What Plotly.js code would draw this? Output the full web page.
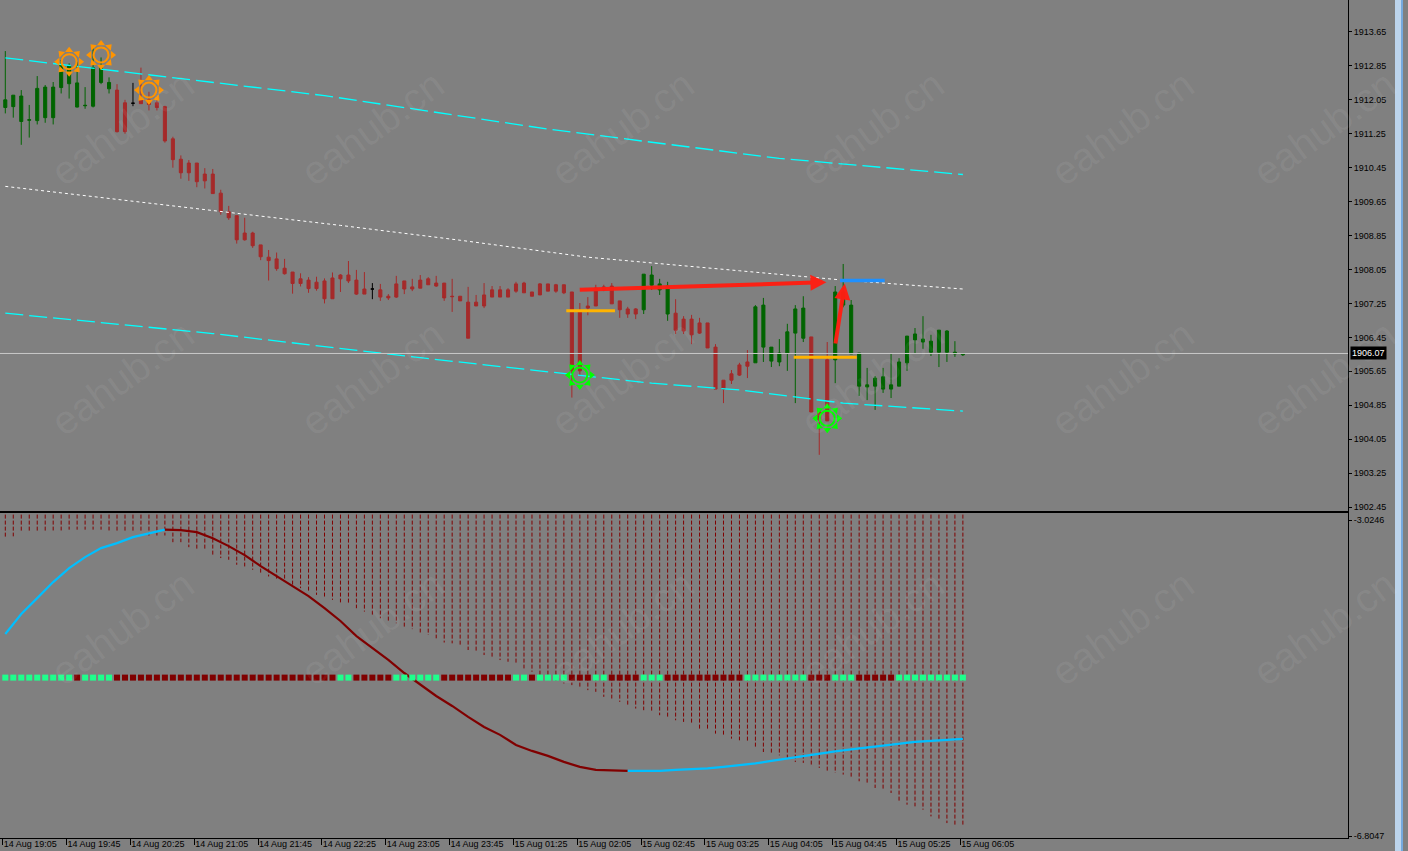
<!DOCTYPE html>
<html><head><meta charset="utf-8">
<script src="https://cdn.plot.ly/plotly-3.0.1.min.js"></script>
<style>html,body{margin:0;padding:0;background:#808080;overflow:hidden;}#chart{width:1408px;height:851px;}</style>
</head><body><div id="chart"></div><script>
// ---------------- DATA ----------------
const open = [
1911.87,1911.89,1911.54,1911.57,1911.56,1911.63,1911.63,1912.34,1912.43,1911.88,
1911.91,1911.90,1912.46,1912.31,1912.28,1911.98,1911.97,1912.05,1912.05,1911.98,
1911.89,1911.13,1910.65,1910.56,1910.56,1910.30,1910.30,1909.85,1909.41,1909.32,
1908.91,1908.91,1908.63,1908.34,1908.30,1908.08,1907.99,1907.83,1907.80,1907.75,
1907.78,1907.85,1907.92,1907.92,1907.80,1907.59,1907.59,1907.57,1907.42,1907.71,
1907.78,1907.64,1907.80,1907.83,1907.73,1907.73,1907.42,1907.42,1907.28,1907.28,
1907.45,1907.57,1907.57,1907.57,1907.71,1907.73,1907.52,1907.71,1907.71,1907.69,
1907.69,1907.52,1907.06,1907.19,1907.61,1907.64,1907.66,1907.31,1907.12,1907.12,
1907.10,1907.68,1907.57,1907.00,1907.02,1906.88,1906.88,1906.79,1906.79,1906.22,
1905.44,1905.59,1905.80,1905.87,1905.85,1906.22,1905.89,1905.87,1906.08,1906.55,
1906.43,1906.46,1904.69,1905.92,1905.92,1907.21,1906.06,1905.30,1905.28,1905.30,
1905.23,1905.23,1905.30,1905.85,1906.39,1906.34,1906.10,1906.10,1906.10,1906.06,
1906.04];
const high = [
1913.20,1912.16,1912.28,1911.93,1912.61,1912.40,1912.47,1912.99,1912.91,1912.95,
1912.35,1913.30,1913.05,1912.58,1912.42,1912.05,1912.45,1912.81,1912.24,1912.13,
1911.91,1911.18,1910.74,1910.63,1910.56,1910.44,1910.42,1909.93,1909.55,1909.32,
1909.27,1908.94,1908.63,1908.51,1908.45,1908.30,1907.99,1907.96,1907.87,1907.88,
1907.84,1907.98,1907.94,1908.25,1908.04,1907.99,1907.73,1907.71,1907.47,1907.90,
1907.78,1907.83,1907.92,1907.87,1907.90,1907.73,1907.83,1907.42,1907.64,1907.45,
1907.73,1907.66,1907.66,1907.61,1907.76,1907.76,1907.52,1907.73,1907.71,1907.71,
1907.69,1907.52,1907.26,1907.40,1907.69,1907.69,1907.73,1907.31,1907.17,1907.14,
1907.94,1908.13,1907.83,1907.76,1907.35,1906.95,1906.98,1906.91,1906.79,1906.29,
1905.44,1905.68,1905.85,1906.15,1907.21,1907.38,1906.22,1906.41,1906.77,1907.21,
1907.42,1906.46,1904.78,1906.34,1907.66,1908.18,1907.33,1906.08,1905.73,1905.54,
1905.73,1906.06,1905.96,1906.48,1906.67,1906.95,1906.51,1906.62,1906.62,1906.36,
1906.08];
const low = [
1911.73,1911.63,1910.99,1911.16,1911.47,1911.51,1911.47,1912.20,1912.08,1911.87,
1911.84,1911.87,1912.42,1912.20,1911.28,1911.25,1911.90,1911.96,1911.80,1911.80,
1911.04,1910.45,1910.19,1910.14,1909.99,1909.96,1909.84,1909.34,1909.22,1908.66,
1908.73,1908.56,1908.27,1907.79,1908.02,1907.93,1907.48,1907.65,1907.50,1907.55,
1907.25,1907.36,1907.52,1907.73,1907.45,1907.47,1907.35,1907.31,1907.33,1907.38,
1907.47,1907.54,1907.61,1907.69,1907.64,1907.31,1907.05,1907.31,1906.43,1907.19,
1907.14,1907.40,1907.40,1907.40,1907.50,1907.50,1907.42,1907.45,1907.54,1907.50,
1907.47,1905.03,1905.54,1906.97,1907.19,1907.54,1907.24,1906.91,1906.91,1906.88,
1907.00,1907.57,1907.45,1906.84,1906.53,1906.53,1906.29,1906.53,1906.20,1905.23,
1904.90,1905.35,1905.54,1905.49,1905.85,1905.87,1905.75,1905.77,1905.66,1904.90,
1906.34,1904.69,1903.68,1904.48,1905.37,1907.16,1906.06,1905.07,1904.97,1904.74,
1905.14,1905.02,1905.30,1905.66,1906.08,1906.18,1906.01,1905.75,1905.87,1905.99,
1906.01];
const close = [
1912.05,1912.16,1912.14,1911.58,1912.32,1912.35,1912.35,1912.87,1912.85,1912.45,
1911.92,1912.81,1912.81,1912.46,1911.30,1911.30,1911.97,1911.96,1911.94,1911.87,
1911.08,1910.64,1910.33,1910.33,1910.12,1910.14,1909.84,1909.41,1909.27,1908.75,
1908.75,1908.61,1908.35,1908.26,1908.07,1907.95,1907.72,1907.72,1907.60,1907.60,
1907.36,1907.36,1907.83,1907.78,1907.47,1907.47,1907.59,1907.40,1907.38,1907.40,
1907.59,1907.59,1907.61,1907.69,1907.66,1907.38,1907.41,1907.31,1906.43,1907.19,
1907.19,1907.40,1907.40,1907.40,1907.54,1907.50,1907.42,1907.45,1907.54,1907.54,
1907.50,1905.66,1905.66,1907.14,1907.19,1907.57,1907.24,1907.10,1907.00,1907.00,
1907.94,1907.92,1907.71,1907.66,1906.62,1906.60,1906.51,1906.55,1906.20,1905.23,
1905.23,1905.44,1905.56,1905.77,1907.17,1907.21,1906.22,1906.08,1906.58,1907.12,
1907.14,1904.69,1904.50,1904.48,1907.52,1907.52,1907.21,1906.08,1905.33,1905.49,
1905.52,1905.33,1905.87,1906.48,1906.53,1906.41,1906.36,1906.62,1906.60,1906.10,
1906.07];

const currentPrice = 1906.07;

// channel lines (bar index, price)
const upperChanBars = [0, 40, 68, 97, 120];
const upperChanPrice = [1913.04, 1912.15, 1911.36, 1910.67, 1910.29];
const midChanBars = [0, 26, 42, 57, 73, 92, 105, 120];
const midChanPrice = [1910.01, 1909.45, 1909.09, 1908.74, 1908.34, 1908.02, 1907.80, 1907.59];
const lowerChanBars = [0, 26, 52, 81, 92, 105, 120];
const lowerChanPrice = [1907.02, 1906.54, 1905.97, 1905.37, 1905.21, 1904.90, 1904.71];

// horizontal level segments
const orangeFrom = [70.3, 98.8];
const orangeTo = [76.4, 106.7];
const orangePrice = [1907.08, 1905.98];
const blueFrom = [104.6];
const blueTo = [110.2];
const bluePrice = [1907.79];

// arrows: tail -> head
const arrowTailBar = [71.8, 104.0];
const arrowTailPrice = [1907.57, 1906.27];
const arrowHeadBar = [102.9, 105.2];
const arrowHeadPrice = [1907.75, 1907.72];

// signal suns
const sellSunBars = [8, 12, 18];
const sellSunPrice = [1912.95, 1913.11, 1912.28];
const buySunBars = [72, 103];
const buySunPrice = [1905.56, 1904.54];

// price axis ticks
const priceTicks = [1902.45,1903.25,1904.05,1904.85,1905.65,1906.45,1907.25,1908.05,1908.85,1909.65,1910.45,1911.25,1912.05,1912.85,1913.65];

// time axis
const tickBars = [0,8,16,24,32,40,48,56,64,72,80,88,96,104,112,120];
const timeLabels = ["14 Aug 19:05","14 Aug 19:45","14 Aug 20:25","14 Aug 21:05","14 Aug 21:45","14 Aug 22:25","14 Aug 23:05","14 Aug 23:45",
  "15 Aug 01:25","15 Aug 02:05","15 Aug 02:45","15 Aug 03:25","15 Aug 04:05","15 Aug 04:45","15 Aug 05:25","15 Aug 06:05"];

// oscillator pane
const oscMax = -3.0246, oscMin = -6.8047;
const oscValues = [
-4.389,-4.150,-3.959,-3.767,-3.600,-3.469,-3.361,-3.301,-3.230,-3.182,-3.140,
-3.146,-3.170,-3.242,-3.337,-3.445,-3.576,-3.696,-3.815,-3.935,-4.078,
-4.233,-4.413,-4.556,-4.699,-4.855,-4.998,-5.130,-5.249,-5.380,-5.500,
-5.595,-5.715,-5.787,-5.846,-5.918,-5.978,-6.014,-6.020,-6.026,-6.026,
-6.026,-6.014,-6.008,-5.996,-5.978,-5.960,-5.936,-5.906,-5.876,-5.846,
-5.823,-5.793,-5.769,-5.745,-5.721,-5.703,-5.679,-5.667,-5.655,-5.643];
const oscStep = 2;              // one value every 2 bars
const oscTurnBars = [20, 78];   // colour turns: up -> down -> up

const bandTop = -2.96;
const bandLow = [
-3.23,-3.22,-3.16,-3.16,-3.16,-3.16,-3.15,-3.15,-3.14,-3.14,
-3.14,-3.14,-3.14,-3.15,-3.16,-3.16,-3.16,-3.17,-3.21,-3.21,
-3.21,-3.29,-3.29,-3.35,-3.37,-3.37,-3.45,-3.48,-3.50,-3.56,
-3.58,-3.62,-3.66,-3.70,-3.74,-3.76,-3.81,-3.84,-3.87,-3.92,
-3.94,-3.98,-4.01,-4.02,-4.08,-4.12,-4.16,-4.20,-4.24,-4.26,
-4.30,-4.33,-4.37,-4.40,-4.44,-4.49,-4.50,-4.52,-4.58,-4.60,
-4.64,-4.66,-4.70,-4.72,-4.74,-4.80,-4.84,-4.88,-4.92,-4.95,
-4.98,-5.00,-5.03,-5.06,-5.08,-5.14,-5.16,-5.20,-5.24,-5.28,
-5.30,-5.32,-5.36,-5.38,-5.42,-5.44,-5.46,-5.52,-5.52,-5.58,
-5.60,-5.64,-5.66,-5.68,-5.74,-5.80,-5.81,-5.84,-5.87,-5.92,
-5.93,-5.95,-5.99,-6.03,-6.05,-6.07,-6.11,-6.15,-6.19,-6.23,
-6.25,-6.29,-6.39,-6.43,-6.45,-6.49,-6.57,-6.61,-6.65,-6.67,
-6.67];

const signalLevel = -4.91;
const signalState = ["111111111","0","1111","0000000000","0000000000","00000000","11","00000","111111",
  "000000000","11","0","1111","000","11","0000","111","0000000000","11111111","000","111","00000","111111111"].join("");

// ---------------- GEOMETRY ----------------
const W = 1408, H = 851, MR = 60, MB = 13;
const PW = W - MR, PH = H - MB;   // plot area 1348 x 838
const xRange = [-0.664, 168.26];
const priceRange = [1902.356, 1914.404];
const PRICE_PANE_PX = 511;
const PX_PER_BAR = PW / (xRange[1] - xRange[0]);
const PX_PER_PRICE = PRICE_PANE_PX / (priceRange[1] - priceRange[0]);

// ---------------- BUILD ----------------
const GREEN = '#006400', RED = '#A52A2A';
const bars = open.map((_, i) => i);
const normIdx = bars.filter(i => open[i] !== close[i]);
const dojiIdx = bars.filter(i => open[i] === close[i]);
const pick = (arr, idx) => idx.map(i => arr[i]);

const traces = [];

// dotted columns (lower pane)
const colX = [], colY = [];
bars.forEach(i => { colX.push(i, i, null); colY.push(bandTop, bandLow[i], null); });
traces.push({type:'scatter', mode:'lines', x:colX, y:colY, xaxis:'x2', yaxis:'y2',
  line:{color:'#800000', width:1, dash:'4px,2px'}, hoverinfo:'skip'});

// oscillator curve, coloured segments
const oscBars = oscValues.map((_, k) => k * oscStep);
function seg(fromBar, toBar, color) {
  const idx = oscBars.map((b, k) => k).filter(k => oscBars[k] >= fromBar && oscBars[k] <= toBar);
  traces.push({type:'scatter', mode:'lines', x:idx.map(k => oscBars[k]), y:idx.map(k => oscValues[k]),
    xaxis:'x2', yaxis:'y2', line:{color:color, width:2.2}, hoverinfo:'skip'});
}
seg(0, oscTurnBars[0], '#00BFFF');
seg(oscTurnBars[0], oscTurnBars[1], '#800000');
seg(oscTurnBars[1], 200, '#00BFFF');

// signal squares
traces.push({type:'scatter', mode:'markers', x:bars, y:bars.map(() => signalLevel), xaxis:'x2', yaxis:'y2',
  marker:{symbol:'square', size:6, color:bars.map(i => signalState[i] === '1' ? '#1EFF8C' : '#800000'), line:{width:0}},
  hoverinfo:'skip'});

// candles
traces.push({type:'candlestick', x:normIdx, open:pick(open,normIdx), high:pick(high,normIdx), low:pick(low,normIdx), close:pick(close,normIdx),
  xaxis:'x', yaxis:'y', whiskerwidth:0,
  increasing:{line:{color:GREEN, width:1}, fillcolor:GREEN},
  decreasing:{line:{color:RED, width:1}, fillcolor:RED}, hoverinfo:'skip'});
traces.push({type:'candlestick', x:dojiIdx, open:pick(open,dojiIdx), high:pick(high,dojiIdx), low:pick(low,dojiIdx), close:pick(close,dojiIdx),
  xaxis:'x', yaxis:'y', whiskerwidth:0,
  increasing:{line:{color:'#000', width:1}, fillcolor:'#000'},
  decreasing:{line:{color:'#000', width:1}, fillcolor:'#000'}, hoverinfo:'skip'});

// channels
traces.push({type:'scatter', mode:'lines', x:upperChanBars, y:upperChanPrice, line:{color:'#00FFFF', width:1.3, dash:'18px,6px'}, hoverinfo:'skip'});
traces.push({type:'scatter', mode:'lines', x:lowerChanBars, y:lowerChanPrice, line:{color:'#00FFFF', width:1.3, dash:'18px,6px'}, hoverinfo:'skip'});
traces.push({type:'scatter', mode:'lines', x:midChanBars, y:midChanPrice, line:{color:'#FFFFFF', width:1, dash:'3px,3px'}, hoverinfo:'skip'});

// levels
orangePrice.forEach((p, k) => traces.push({type:'scatter', mode:'lines', x:[orangeFrom[k], orangeTo[k]], y:[p, p],
  line:{color:'#FFB300', width:3}, hoverinfo:'skip'}));
bluePrice.forEach((p, k) => traces.push({type:'scatter', mode:'lines', x:[blueFrom[k], blueTo[k]], y:[p, p],
  line:{color:'#1E90FF', width:3.5}, hoverinfo:'skip'}));

// suns: a ring plus 8 triangular rays around each signal point
const RAY_R = 11.5;
function addSuns(sBars, sPrices, color) {
  traces.push({type:'scatter', mode:'markers', x:sBars, y:sPrices,
    marker:{symbol:'circle-open', size:15, color:color, line:{width:2, color:color}}, hoverinfo:'skip'});
  const rx = [], ry = [], ang = [];
  sBars.forEach((b, k) => {
    for (let j = 0; j < 8; j++) {
      const t = j * Math.PI / 4;
      rx.push(b + RAY_R * Math.sin(t) / PX_PER_BAR);
      ry.push(sPrices[k] + RAY_R * Math.cos(t) / PX_PER_PRICE);
      ang.push(j * 45);
    }
  });
  traces.push({type:'scatter', mode:'markers', x:rx, y:ry,
    marker:{symbol:'triangle-up', size:7, color:color, angle:ang, line:{width:0}}, hoverinfo:'skip'});
}
addSuns(sellSunBars, sellSunPrice, '#FF9400');
addSuns(buySunBars, buySunPrice, '#00FF00');

// ---------------- LAYOUT ----------------
const annotations = [];
// watermarks
[122, 372, 622, 872, 1122, 1324].forEach(px => [128, 378, 628].forEach(py => annotations.push({
  xref:'paper', yref:'paper', x:px / PW, y:1 - py / PH, text:'eahub.cn', showarrow:false, textangle:-36,
  font:{family:'Liberation Sans', size:40, color:'rgba(255,255,255,0.075)'}, xanchor:'center', yanchor:'middle'})));
// arrows
arrowHeadBar.forEach((b, k) => annotations.push({x:b, y:arrowHeadPrice[k], ax:arrowTailBar[k], ay:arrowTailPrice[k],
  xref:'x', yref:'y', axref:'x', ayref:'y', showarrow:true, text:'', arrowhead:2, arrowsize:0.8, arrowwidth:4,
  arrowcolor:'rgba(255,30,18,0.97)', standoff:0}));
// current price label
annotations.push({xref:'paper', x:1, xanchor:'left', xshift:2, yref:'y', y:currentPrice, text:currentPrice.toFixed(2),
  showarrow:false, bgcolor:'#000', font:{family:'Liberation Sans', size:9, color:'#fff'}, borderpad:1});

const shapes = [
  {type:'line', xref:'paper', x0:0, x1:1, yref:'y', y0:currentPrice, y1:currentPrice, line:{color:'#C8C8C8', width:1}, layer:'above'},
  {type:'rect', xref:'paper', yref:'paper', x0:1395 / PW, x1:1403 / PW, y0:-0.05, y1:1.01, fillcolor:'#BCD4EC', line:{width:0}},
  {type:'line', xref:'paper', yref:'paper', x0:1402 / PW, x1:1402 / PW, y0:-0.05, y1:1.01, line:{color:'#2F7FD0', width:1}},
];

// lower pane: -3.0246 sits 7px below its top, -6.8047 sits 2px above its bottom
const pxPerUnit = (836 - 520) / (oscMax - oscMin);
const axisFont = {family:'Liberation Sans', size:9, color:'#000'};
const layout = {
  width:W, height:H, margin:{l:0, r:MR, t:0, b:MB, pad:0},
  paper_bgcolor:'#808080', plot_bgcolor:'#808080', showlegend:false,
  font:axisFont, boxgap:0.45, dragmode:false, hovermode:false,
  xaxis:{domain:[0,1], range:xRange, anchor:'y', showticklabels:false, ticks:'', showgrid:false, zeroline:false,
    showline:true, linecolor:'#000', linewidth:1, rangeslider:{visible:false}},
  yaxis:{domain:[1 - PRICE_PANE_PX / PH, 1], range:priceRange, side:'right', anchor:'x',
    tickvals:priceTicks, ticktext:priceTicks.map(v => v.toFixed(2)), ticks:'outside', ticklen:3, tickcolor:'#000',
    tickfont:axisFont, showline:true, linecolor:'#000', linewidth:1, showgrid:false, zeroline:false},
  xaxis2:{domain:[0,1], range:xRange, anchor:'y2', tickvals:tickBars.map(b => b - 0.33), ticktext:timeLabels,
    ticks:'outside', ticklen:6, tickcolor:'#000', ticklabelposition:'outside right', ticklabelstandoff:-3, tickfont:axisFont,
    showline:true, mirror:true, linecolor:'#000', linewidth:1, showgrid:false, zeroline:false},
  yaxis2:{domain:[0, 1 - 513 / PH], range:[oscMin - (PH - 836) / pxPerUnit, oscMax + (520 - 513) / pxPerUnit], side:'right', anchor:'x2',
    tickvals:[oscMax, oscMin], ticktext:[oscMax.toFixed(4), oscMin.toFixed(4)], ticks:'outside', ticklen:3, tickcolor:'#000',
    tickfont:axisFont, showline:true, linecolor:'#000', linewidth:1, showgrid:false, zeroline:false},
  annotations:annotations, shapes:shapes
};

Plotly.newPlot('chart', traces, layout, {displayModeBar:false, staticPlot:true});
</script></body></html>
